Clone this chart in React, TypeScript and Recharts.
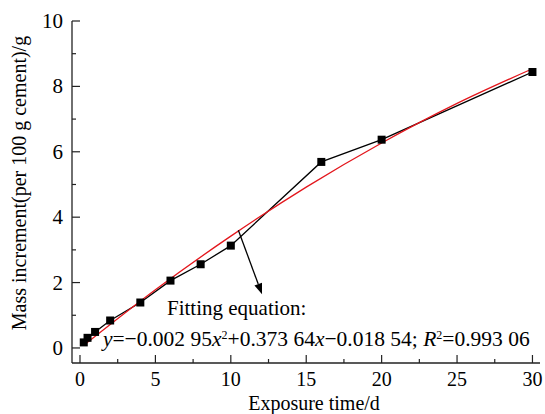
import React from "react";
import { LineChart, Line, XAxis, YAxis, ReferenceLine, ReferenceDot } from "recharts";

// measured points
const exposureDays = [0.25, 0.5, 1, 2, 4, 6, 8, 10, 16, 20, 30];
const massIncrement = [0.17, 0.31, 0.49, 0.84, 1.39, 2.06, 2.56, 3.13, 5.69, 6.37, 8.44];

// fitted curve
const fitDays = [0.25, 5, 10, 15, 20, 25, 30];
const fitMass = [0.08, 1.78, 3.42, 4.92, 6.27, 7.48, 8.54];

const xTicks = [0, 2.5, 5, 7.5, 10, 12.5, 15, 17.5, 20, 22.5, 25, 27.5, 30];
const xLabels = [0, 5, 10, 15, 20, 25, 30];
const yTicks = [0, 1, 2, 3, 4, 5, 6, 7, 8, 9, 10];
const yLabels = [0, 2, 4, 6, 8, 10];

const measured = exposureDays.map((x, i) => ({ x, y: massIncrement[i] }));
const fitted = fitDays.map((x, i) => ({ x, y: fitMass[i] }));

const FONT = "'Liberation Serif', 'Times New Roman', serif";
const AXIS = "#222";

const XTick = ({ x, y, payload }: any) => {
  const major = xLabels.includes(payload.value);
  return (
    <g>
      <line x1={x} x2={x} y1={y} y2={y - (major ? 8 : 4)} stroke={AXIS} strokeWidth={1.2} />
      {major && (
        <text x={x} y={y + 23} textAnchor="middle" fontFamily={FONT} fontSize={20} fill="#000">
          {payload.value}
        </text>
      )}
    </g>
  );
};

const YTick = ({ x, y, payload }: any) => {
  const major = yLabels.includes(payload.value);
  return (
    <g>
      <line x1={x} x2={x + (major ? 8 : 4)} y1={y} y2={y} stroke={AXIS} strokeWidth={1.2} />
      {major && (
        <text x={x - 9} y={y + 7} textAnchor="end" fontFamily={FONT} fontSize={21} fill="#000">
          {payload.value}
        </text>
      )}
    </g>
  );
};

const Arrow = ({ x1, y1, x2, y2 }: any) => {
  const a = Math.atan2(y2 - y1, x2 - x1);
  const len = 11;
  const w = 4;
  const bx = x2 - len * Math.cos(a);
  const by = y2 - len * Math.sin(a);
  const pts = [
    [x2, y2],
    [bx + w * Math.sin(a), by - w * Math.cos(a)],
    [bx - w * Math.sin(a), by + w * Math.cos(a)],
  ]
    .map((p) => p.join(","))
    .join(" ");
  return (
    <g>
      <line x1={x1} y1={y1} x2={bx} y2={by} stroke="#000" strokeWidth={1.3} />
      <polygon points={pts} fill="#000" />
    </g>
  );
};

const sup = { fontSize: 12, baselineShift: "super" } as any;

export default function App() {
  return (
    <div style={{ position: "absolute", left: 0, top: 0, width: 545, height: 414, background: "#fff" }}>
      <LineChart width={545} height={414} margin={{ top: 21, right: 5, bottom: 0, left: 0 }}>
        <XAxis
          dataKey="x"
          type="number"
          domain={[-0.53, 30.5]}
          ticks={xTicks}
          interval={0}
          allowDataOverflow
          height={51}
          tickSize={0}
          tickMargin={0}
          tickLine={false}
          tick={<XTick />}
          axisLine={{ stroke: AXIS, strokeWidth: 1.3 }}
          label={{ value: "Exposure time/d", position: "center", dx: 8, dy: 14, fontFamily: FONT, fontSize: 20, fill: "#000" }}
        />
        <XAxis
          xAxisId="top"
          orientation="top"
          type="number"
          domain={[-0.53, 30.5]}
          allowDataOverflow
          height={0}
          tick={false}
          tickLine={false}
          axisLine={{ stroke: AXIS, strokeWidth: 1.3 }}
        />
        <YAxis
          type="number"
          domain={[-0.46, 10]}
          ticks={yTicks}
          interval={0}
          allowDataOverflow
          width={72}
          tickSize={0}
          tickMargin={0}
          tickLine={false}
          tick={<YTick />}
          axisLine={{ stroke: AXIS, strokeWidth: 1.3 }}
          label={{
            value: "Mass increment(per 100 g cement)/g",
            angle: -90,
            position: "center",
            dx: -17,
            dy: -9,
            fontFamily: FONT,
            fontSize: 20,
            fill: "#000",
          }}
        />
        <YAxis
          yAxisId="right"
          orientation="right"
          type="number"
          domain={[-0.46, 10]}
          width={0}
          tick={false}
          tickLine={false}
          axisLine={{ stroke: AXIS, strokeWidth: 1.3 }}
        />
        <Line
          data={measured}
          dataKey="y"
          type="linear"
          stroke="#000"
          strokeWidth={1.3}
          isAnimationActive={false}
          dot={(p: any) => <rect key={p.index} x={p.cx - 4} y={p.cy - 4} width={8} height={8} fill="#000" />}
          activeDot={false}
        />
        <Line
          data={fitted}
          dataKey="y"
          type="monotone"
          stroke="#e3161c"
          strokeWidth={1.3}
          dot={false}
          activeDot={false}
          isAnimationActive={false}
        />
        <ReferenceLine
          segment={[
            { x: 10.5, y: 3.6 },
            { x: 12.07, y: 1.64 },
          ]}
          shape={(p: any) => <Arrow {...p} />}
        />
        <ReferenceDot
          x={5.77}
          y={1.0}
          shape={(p: any) => (
            <text x={p.cx} y={p.cy} fontFamily={FONT} fontSize={21} fill="#000">
              Fitting equation:
            </text>
          )}
        />
        <ReferenceDot
          x={1.52}
          y={0.05}
          shape={(p: any) => (
            <text x={p.cx} y={p.cy} fontFamily={FONT} fontSize={21.5} fill="#000">
              <tspan fontStyle="italic">y</tspan>
              <tspan>=−0.002 95</tspan>
              <tspan fontStyle="italic">x</tspan>
              <tspan style={sup}>2</tspan>
              <tspan>+0.373 64</tspan>
              <tspan fontStyle="italic">x</tspan>
              <tspan>−0.018 54; </tspan>
              <tspan fontStyle="italic">R</tspan>
              <tspan style={sup}>2</tspan>
              <tspan>=0.993 06</tspan>
            </text>
          )}
        />
      </LineChart>
    </div>
  );
}
